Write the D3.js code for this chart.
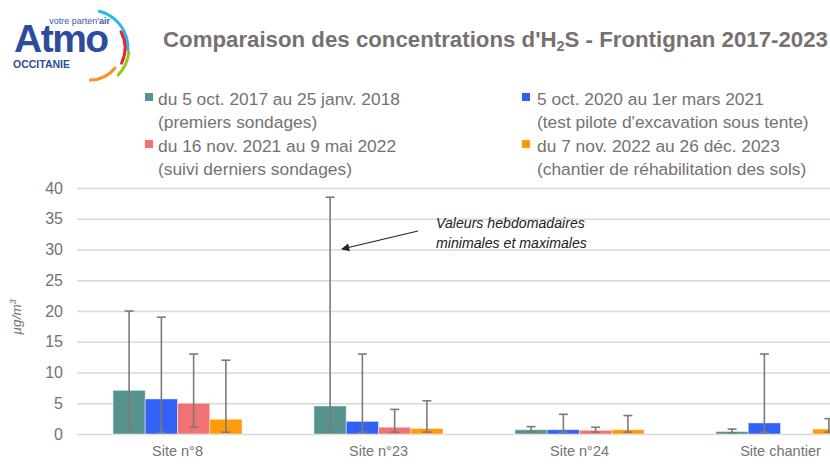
<!DOCTYPE html>
<html>
<head>
<meta charset="utf-8">
<script src="https://cdn.jsdelivr.net/npm/d3@7"></script>
<style>
  body { margin: 0; background: #fff; }
  svg { display: block; }
</style>
</head>
<body>
<div id="chart"></div>
<script>
var width = 830,
    height = 464;

var categories = ["Site n°8", "Site n°23", "Site n°24", "Site chantier"];
var seriesNames = ["premiers", "pilote", "suivi", "chantier"];
var colors = ["#56938f", "#3162f5", "#f07373", "#fd9b0a"];

// moyennes, minimales et maximales hebdomadaires (µg/m3)
var meanPremiers = [7.1, 4.55, 0.7, 0.4],
    meanPilote   = [5.7, 2.05, 0.7, 1.8],
    meanSuivi    = [5.0, 1.1, 0.6, null],
    meanChantier = [2.4, 0.9, 0.7, 0.8];

var minPremiers = [0.6, 0.3, 0.3, 0.2],
    minPilote   = [0.3, 0.3, 0.3, 0.3],
    minSuivi    = [1.1, 0.3, 0.3, null],
    minChantier = [0.3, 0.3, 0.3, 0.3];

var maxPremiers = [20, 38.5, 1.2, 0.8],
    maxPilote   = [19, 13, 3.2, 13],
    maxSuivi    = [13, 4, 1.1, null],
    maxChantier = [12, 5.4, 3.0, 2.5];

var yTicks = [0, 5, 10, 15, 20, 25, 30, 35, 40];

var legendLines = [
  ["du 5 oct. 2017 au 25 janv. 2018", "(premiers sondages)"],
  ["5 oct. 2020 au 1er mars 2021", "(test pilote d'excavation sous tente)"],
  ["du 16 nov. 2021 au 9 mai 2022", "(suivi derniers sondages)"],
  ["du 7 nov. 2022 au 26 déc. 2023", "(chantier de réhabilitation des sols)"]
];

var means = [meanPremiers, meanPilote, meanSuivi, meanChantier],
    mins = [minPremiers, minPilote, minSuivi, minChantier],
    maxs = [maxPremiers, maxPilote, maxSuivi, maxChantier];

var textGray = "#767171",
    narrow = "'Liberation Sans Narrow', 'Arial Narrow', 'Liberation Sans', sans-serif";

var svg = d3.select("#chart").append("svg")
    .attr("width", width)
    .attr("height", height);

// fit font-size so the text is as wide as in the picture
function fit(sel, target) {
  var fs = parseFloat(sel.attr("font-size"));
  var w = sel.node().getComputedTextLength();
  if (w > 0) sel.attr("font-size", (fs * target / w).toFixed(2));
  return parseFloat(sel.attr("font-size"));
}

/* Logo */
var logo = svg.append("g").attr("class", "logo");
var arcCenter = [90, 48];
var arcs = [
  {r: 38, a0: 12, a1: 95, c: "#2ab8e6"},
  {r: 35, a0: 60, a1: 118, c: "#e5243b"},
  {r: 39, a0: 94, a1: 136, c: "#9dc41a"},
  {r: 32, a0: 126, a1: 182, c: "#f7931e"}
];
arcs.forEach(function(a) {
  var arc = d3.arc()
    .innerRadius(a.r - 1.5).outerRadius(a.r + 1.5)
    .startAngle(a.a0 * Math.PI / 180).endAngle(a.a1 * Math.PI / 180)
    .cornerRadius(1.5);
  logo.append("path")
    .attr("transform", "translate(" + arcCenter + ")")
    .attr("d", arc())
    .attr("fill", a.c);
});
logo.append("text")
  .attr("x", 14).attr("y", 52)
  .attr("font-family", "'Liberation Sans', Arial, sans-serif")
  .attr("font-weight", "bold")
  .attr("font-size", 39)
  .attr("letter-spacing", -1.5)
  .attr("fill", "#2f4c9c")
  .text("Atmo");
var vp = logo.append("text")
  .attr("x", 110).attr("y", 24)
  .attr("text-anchor", "end")
  .attr("font-family", "'Liberation Sans', Arial, sans-serif")
  .attr("font-size", 9)
  .attr("fill", "#3b5aa8");
vp.append("tspan").text("votre parten'");
vp.append("tspan").attr("font-weight", "bold").text("air");
logo.append("text")
  .attr("x", 13).attr("y", 68)
  .attr("font-family", "'Liberation Sans', Arial, sans-serif")
  .attr("font-weight", "bold")
  .attr("font-size", 10.5)
  .attr("fill", "#2f4c9c")
  .text("OCCITANIE");

/* Title */
var title = svg.append("text")
  .attr("x", 163).attr("y", 47)
  .attr("font-family", narrow)
  .attr("font-weight", "bold")
  .attr("font-size", 24)
  .attr("fill", textGray);
title.append("tspan").text("Comparaison des concentrations d'H");
var sub = title.append("tspan").attr("class", "sub").attr("dy", 4).text("2");
var after = title.append("tspan").attr("dy", -4).text("S - Frontignan 2017-2023");
var tfs = fit(title, 665);
sub.attr("font-size", tfs * 0.65).attr("dy", tfs * 0.2);
after.attr("dy", -tfs * 0.2);
tfs = fit(title, 665);
sub.attr("font-size", tfs * 0.65).attr("dy", tfs * 0.2);
after.attr("dy", -tfs * 0.2);

/* Legend */
var legendPos = [[145, 158], [522, 537], [145, 158], [522, 537]];
var legendY = [105, 105, 152, 152];
var legend = svg.append("g").attr("class", "legend");
var probe = legend.append("text")
  .attr("font-family", narrow).attr("font-size", 19)
  .text(legendLines[0][0]);
var lfs = fit(probe, 242);
probe.remove();
legendLines.forEach(function(lines, i) {
  legend.append("rect")
    .attr("x", legendPos[i][0]).attr("y", legendY[i] - 12)
    .attr("width", 8).attr("height", 8)
    .attr("fill", colors[i]);
  lines.forEach(function(l, j) {
    legend.append("text")
      .attr("x", legendPos[i][1]).attr("y", legendY[i] + j * 23)
      .attr("font-family", narrow)
      .attr("font-size", lfs)
      .attr("fill", textGray)
      .text(l);
  });
});

/* Scales */
var x0 = d3.scaleBand()
  .domain(categories)
  .range([77, 881])
  .paddingInner(0.358)
  .paddingOuter(0.179);

var x1 = d3.scaleBand()
  .domain(seriesNames)
  .range([0, x0.bandwidth()]);

var y = d3.scaleLinear()
  .domain([0, 40])
  .range([434, 188]);

/* Grid + axis */
var yAxis = svg.append("g")
  .attr("transform", "translate(77,0)")
  .call(d3.axisLeft(y).tickValues(yTicks).tickSize(-(width - 77)).tickPadding(14));
yAxis.select(".domain").remove();
yAxis.selectAll(".tick line").attr("stroke", "#d9d9d9").attr("stroke-width", 1.5);
yAxis.selectAll(".tick text")
  .attr("font-family", narrow)
  .attr("font-size", 16)
  .attr("fill", textGray);

svg.append("text")
  .attr("transform", "translate(21,317) rotate(-90)")
  .attr("text-anchor", "middle")
  .attr("font-family", "'Liberation Sans', Arial, sans-serif")
  .attr("font-style", "italic")
  .attr("font-size", 13.5)
  .attr("fill", textGray)
  .html("µg/m<tspan dy='-5' font-size='9'>3</tspan>");

var xAxis = svg.append("g")
  .attr("transform", "translate(0,434)")
  .call(d3.axisBottom(x0).tickSize(0).tickPadding(12));
xAxis.select(".domain").remove();
xAxis.selectAll(".tick text")
  .attr("font-family", "'Liberation Sans', Arial, sans-serif")
  .attr("font-size", 14.5)
  .attr("fill", textGray);

/* Bars */
var rows = [];
categories.forEach(function(c, ci) {
  seriesNames.forEach(function(s, si) {
    if (means[si][ci] != null)
      rows.push({cat: c, s: s, si: si, mean: means[si][ci], min: mins[si][ci], max: maxs[si][ci]});
  });
});

var marks = svg.append("g").attr("class", "marks");
marks.selectAll(".bar")
  .data(rows)
  .enter()
  .append("rect")
  .attr("class", "bar")
  .attr("x", function(d) { return x0(d.cat) + x1(d.s); })
  .attr("y", function(d) { return y(d.mean); })
  .attr("width", x1.bandwidth())
  .attr("height", function(d) { return y(0) - y(d.mean); })
  .attr("fill", function(d) { return colors[d.si]; })
  .attr("stroke", "#fff")
  .attr("stroke-opacity", 0.45)
  .attr("stroke-width", 1);

var errColor = "#7f7a72";
var err = marks.selectAll(".err")
  .data(rows)
  .enter()
  .append("g")
  .attr("class", "err")
  .attr("transform", function(d) { return "translate(" + (x0(d.cat) + x1(d.s) + x1.bandwidth() / 2) + ",0)"; })
  .attr("stroke", errColor)
  .attr("stroke-width", 1.6);
err.append("line")
  .attr("y1", function(d) { return y(d.min); })
  .attr("y2", function(d) { return y(d.max); });
err.append("line")
  .attr("x1", -4.5).attr("x2", 4.5)
  .attr("y1", function(d) { return y(d.max); })
  .attr("y2", function(d) { return y(d.max); });
err.append("line")
  .attr("x1", -4.5).attr("x2", 4.5)
  .attr("y1", function(d) { return y(d.min); })
  .attr("y2", function(d) { return y(d.min); });

/* Annotation */
svg.append("defs").append("marker")
  .attr("id", "arrow")
  .attr("viewBox", "0 0 10 10")
  .attr("refX", 9).attr("refY", 5)
  .attr("markerWidth", 10).attr("markerHeight", 8)
  .attr("markerUnits", "userSpaceOnUse")
  .attr("orient", "auto")
  .append("path")
  .attr("d", "M0,0L10,5L0,10z")
  .attr("fill", "#222");
svg.append("line")
  .attr("x1", 418).attr("y1", 231)
  .attr("x2", 342).attr("y2", 249)
  .attr("stroke", "#222")
  .attr("stroke-width", 1.2)
  .attr("marker-end", "url(#arrow)");
var ann1 = svg.append("text")
  .attr("x", 436).attr("y", 228)
  .attr("font-family", "'Liberation Sans', Arial, sans-serif")
  .attr("font-style", "italic")
  .attr("font-size", 14)
  .attr("fill", "#222")
  .text("Valeurs hebdomadaires");
var ann2 = svg.append("text")
  .attr("x", 436).attr("y", 248)
  .attr("font-family", "'Liberation Sans', Arial, sans-serif")
  .attr("font-style", "italic")
  .attr("font-size", 14)
  .attr("fill", "#222")
  .text("minimales et maximales");
var afs = fit(ann2, 151);
ann1.attr("font-size", afs);
</script>
</body>
</html>
